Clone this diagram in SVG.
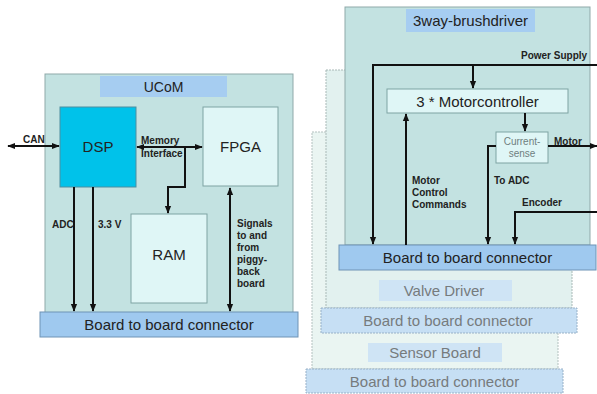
<svg xmlns="http://www.w3.org/2000/svg" width="597" height="394" viewBox="0 0 597 394">
  <defs>
    <marker id="ah" viewBox="0 0 10 10" refX="9" refY="5" markerWidth="4" markerHeight="4" orient="auto-start-reverse">
      <path d="M0,1 L10,5 L0,9 z" fill="#111"/>
    </marker>
    <style>
      .board { fill: #c3e2e1; stroke: #8fa9a9; stroke-width: 1; }
      .board-faded { fill: #e2f1ef; stroke: #a9b9b7; stroke-width: 1; stroke-dasharray: 2 1; }
      .board-faded2 { fill: #eaf5f2; stroke: #b3c1bf; stroke-width: 1; stroke-dasharray: 2 1; }
      .title { fill: #a6cdf1; }
      .title-faded { fill: #cfe4f5; }
      .conn { fill: #9fc9ef; stroke: #6f93b5; stroke-width: 1; }
      .conn-faded { fill: #c6dff4; stroke: #98b1c8; stroke-width: 1; stroke-dasharray: 2 1; }
      .chip { fill: #dff6f6; stroke: #7fa3a3; stroke-width: 1; }
      .dsp { fill: #00c2ea; stroke: #4f8ea0; stroke-width: 1; }
      .big { font-family: "Liberation Sans", Arial, sans-serif; font-size: 15px; fill: #222; text-anchor: middle; }
      .mid { font-family: "Liberation Sans", Arial, sans-serif; font-size: 14px; fill: #222; text-anchor: middle; }
      .mid-faded { font-family: "Liberation Sans", Arial, sans-serif; font-size: 15px; fill: #767b7d; text-anchor: middle; }
      .lbl { font-family: "Liberation Sans", Arial, sans-serif; font-size: 10px; font-weight: bold; fill: #222; }
      .small { font-family: "Liberation Sans", Arial, sans-serif; font-size: 10px; fill: #6f8080; text-anchor: middle; }
      .wire { fill: none; stroke: #111; stroke-width: 2; }
    </style>
  </defs>

  <!-- Left: UCoM board -->
  <g id="ucom">
    <rect class="board" x="45" y="74" width="248" height="240"/>
    <rect class="title" x="100" y="76" width="127" height="21"/>
    <text class="mid" x="163.5" y="91.5">UCoM</text>
  </g>
  <g id="dsp">
    <rect class="dsp" x="60" y="107" width="76" height="80"/>
    <text class="big" x="98" y="152">DSP</text>
  </g>
  <g id="fpga">
    <rect class="chip" x="203" y="107" width="75" height="79"/>
    <text class="big" x="240.5" y="152">FPGA</text>
  </g>
  <g id="ram">
    <rect class="chip" x="131" y="214" width="76" height="89"/>
    <text class="big" x="169" y="260">RAM</text>
  </g>
  <g id="ucom-connector">
    <rect class="conn" x="40" y="312" width="258" height="25"/>
    <text class="big" x="169" y="330">Board to board connector</text>
  </g>

  <!-- Right: stacked piggy-back boards, back to front -->
  <g id="sensor-board">
    <rect class="board-faded2" x="312" y="132" width="246" height="237"/>
    <rect class="title-faded" x="368" y="343" width="134" height="19"/>
    <text class="mid-faded" x="435" y="358">Sensor Board</text>
  </g>
  <g id="sensor-connector">
    <rect class="conn-faded" x="306" y="369" width="257" height="24"/>
    <text class="mid-faded" x="434.5" y="386.5">Board to board connector</text>
  </g>
  <g id="valve-driver">
    <rect class="board-faded" x="326" y="70" width="246" height="238"/>
    <rect class="title-faded" x="379" y="280" width="133" height="21"/>
    <text class="mid-faded" x="444" y="296">Valve Driver</text>
  </g>
  <g id="valve-connector">
    <rect class="conn-faded" x="321" y="308" width="256" height="25"/>
    <text class="mid-faded" x="448" y="326">Board to board connector</text>
  </g>
  <g id="brushdriver">
    <rect class="board" x="345" y="7" width="245" height="238"/>
    <rect class="title" x="406" y="9" width="129" height="23"/>
    <text class="big" x="470.5" y="26">3way-brushdriver</text>
  </g>
  <g id="motorcontroller">
    <rect class="chip" x="387" y="89" width="181" height="24"/>
    <text class="big" x="477.5" y="106.5">3 * Motorcontroller</text>
  </g>
  <g id="current-sense">
    <rect class="chip" x="496" y="132" width="52" height="31"/>
    <text class="small" x="522" y="145">Current-</text>
    <text class="small" x="522" y="157">sense</text>
  </g>
  <g id="brushdriver-connector">
    <rect class="conn" x="339" y="245" width="257" height="25"/>
    <text class="big" x="467.5" y="263">Board to board connector</text>
  </g>

  <!-- Connectors -->
  <g id="connectors">
    <line class="wire" x1="8" y1="146" x2="59" y2="146" marker-start="url(#ah)" marker-end="url(#ah)"/>
    <line class="wire" x1="137" y1="147" x2="202" y2="147" marker-start="url(#ah)" marker-end="url(#ah)"/>
    <polyline class="wire" points="185,147 185,187 168,187 168,213" marker-end="url(#ah)"/>
    <line class="wire" x1="74" y1="187" x2="74" y2="311" marker-end="url(#ah)"/>
    <line class="wire" x1="93" y1="187" x2="93" y2="311" marker-end="url(#ah)"/>
    <line class="wire" x1="230" y1="188" x2="230" y2="311" marker-start="url(#ah)" marker-end="url(#ah)"/>

    <polyline class="wire" points="597,65 373,65 373,244" marker-end="url(#ah)"/>
    <line class="wire" x1="473" y1="65" x2="473" y2="88" marker-end="url(#ah)"/>
    <line class="wire" x1="406" y1="245" x2="406" y2="114" marker-end="url(#ah)"/>
    <line class="wire" x1="525" y1="113" x2="525" y2="131" marker-end="url(#ah)"/>
    <line class="wire" x1="548" y1="146" x2="597" y2="146" marker-end="url(#ah)"/>
    <polyline class="wire" points="496,146 488,146 488,244" marker-end="url(#ah)"/>
    <polyline class="wire" points="597,212 515,212 515,244" marker-end="url(#ah)"/>

    <text class="lbl" x="23" y="143">CAN</text>
    <text class="lbl" x="141" y="144">Memory</text>
    <text class="lbl" x="141" y="157">Interface</text>
    <text class="lbl" x="52" y="228">ADC</text>
    <text class="lbl" x="98" y="228">3.3 V</text>
    <text class="lbl" x="237" y="227">Signals</text>
    <text class="lbl" x="237" y="239">to and</text>
    <text class="lbl" x="237" y="251">from</text>
    <text class="lbl" x="237" y="263">piggy-</text>
    <text class="lbl" x="237" y="275">back</text>
    <text class="lbl" x="237" y="287">board</text>

    <text class="lbl" x="521" y="59">Power Supply</text>
    <text class="lbl" x="554" y="145">Motor</text>
    <text class="lbl" x="412" y="184">Motor</text>
    <text class="lbl" x="412" y="196">Control</text>
    <text class="lbl" x="412" y="208">Commands</text>
    <text class="lbl" x="494" y="184">To ADC</text>
    <text class="lbl" x="522" y="206">Encoder</text>
  </g>
</svg>
